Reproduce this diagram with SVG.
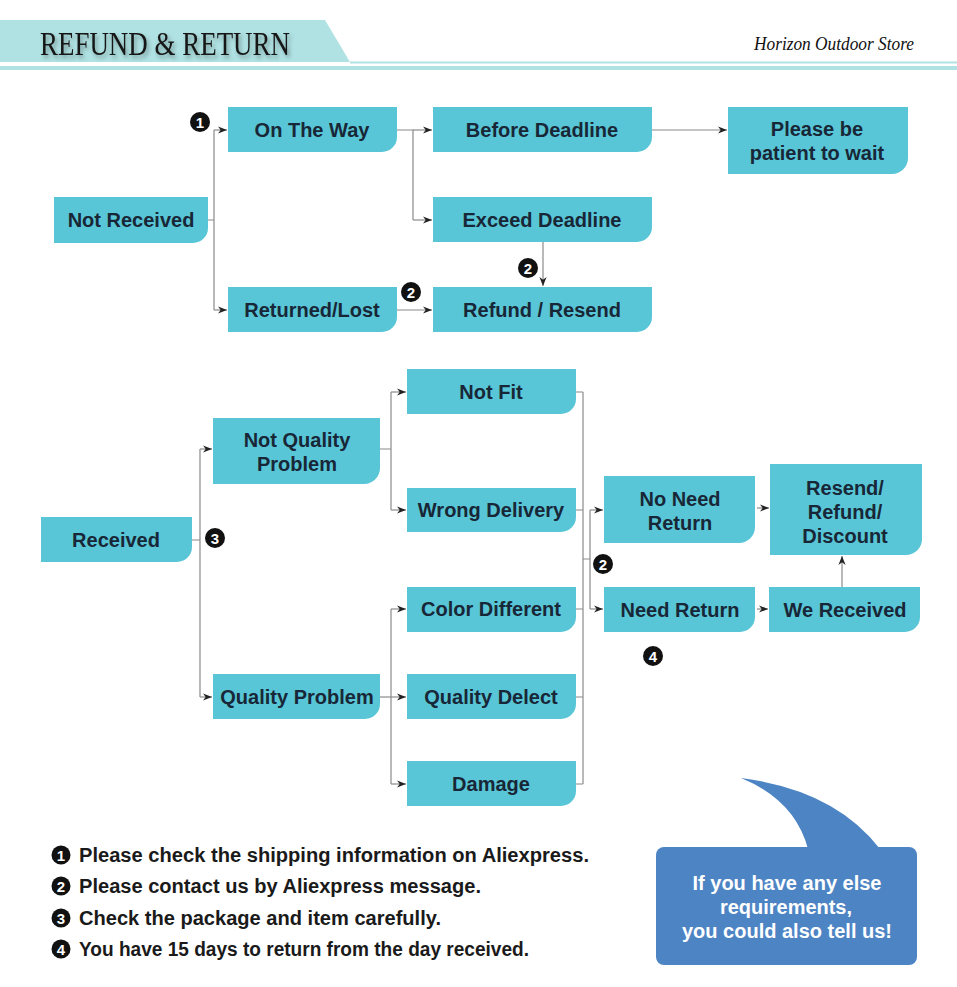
<svg xmlns="http://www.w3.org/2000/svg" width="957" height="987" viewBox="0 0 957 987">
<defs>
<style>
.node{fill:#58c6d6}
.t{font-family:"Liberation Sans",Arial,sans-serif;font-weight:bold;font-size:20px;fill:#182737;text-anchor:middle}
.conn{fill:none;stroke:#8a8a8a;stroke-width:1.2}
.arr{marker-end:url(#ah)}
.bc{fill:#111}
.bt{font-family:"Liberation Sans",Arial,sans-serif;font-weight:bold;font-size:15px;fill:#fff;text-anchor:middle}
.note{font-family:"Liberation Sans",Arial,sans-serif;font-weight:bold;font-size:20px;fill:#1a1a1a}
.bub{font-family:"Liberation Sans",Arial,sans-serif;font-weight:bold;font-size:20px;fill:#fff;text-anchor:middle}
</style>
<marker id="ah" viewBox="0 0 10 10" refX="10" refY="5" markerWidth="9" markerHeight="9" markerUnits="userSpaceOnUse" orient="auto">
<path d="M0,1 L10,5 L0,9 L3,5 Z" fill="#222"/>
</marker>
<filter id="sh" x="-10%" y="-30%" width="120%" height="160%">
<feDropShadow dx="2" dy="3" stdDeviation="2" flood-color="#000" flood-opacity="0.35"/>
</filter>
</defs>
<rect width="957" height="987" fill="#fff"/>

<g id="header">
<polygon points="0,20 325,20 350,62 0,62" fill="#b0e2e3"/>
<rect x="350" y="61.5" width="607" height="2" fill="#b0e2e3"/>
<rect x="0" y="66" width="957" height="4" fill="#b0e2e3"/>
<text x="40" y="55" font-family="Liberation Serif,serif" font-size="34" fill="#151515" textLength="250" lengthAdjust="spacingAndGlyphs" filter="url(#sh)">REFUND &amp; RETURN</text>
<text x="754" y="50" font-family="Liberation Serif,serif" font-style="italic" font-size="18" fill="#111" textLength="160" lengthAdjust="spacingAndGlyphs">Horizon Outdoor Store</text>
</g>

<g id="connectors">
<path class="conn" d="M208,220 H214 M214,130 V310"/>
<path class="conn arr" d="M214,130 H227"/>
<path class="conn arr" d="M214,310 H227"/>
<path class="conn" d="M397,130 H413 V220"/>
<path class="conn arr" d="M413,130 H432"/>
<path class="conn arr" d="M413,220 H432"/>
<path class="conn arr" d="M652,130 H727"/>
<path class="conn arr" d="M543,242 V286"/>
<path class="conn arr" d="M397,310 H432"/>

<path class="conn" d="M192,540 H200 M200,449 V697"/>
<path class="conn arr" d="M200,449 H212"/>
<path class="conn arr" d="M200,697 H212"/>
<path class="conn" d="M380,449 H391 M391,392 V510"/>
<path class="conn arr" d="M391,392 H406"/>
<path class="conn arr" d="M391,510 H406"/>
<path class="conn arr" d="M380,697 H406"/>
<path class="conn" d="M391,609 V784"/>
<path class="conn arr" d="M391,609 H406"/>
<path class="conn arr" d="M391,784 H406"/>

<path class="conn" d="M576,392 H583 M576,510 H583 M576,609 H583 M576,697 H583 M576,784 H583 M583,392 V784 M583,559 H590 M590,510 V609"/>
<path class="conn arr" d="M590,510 H603"/>
<path class="conn arr" d="M590,609 H603"/>
<path class="conn arr" d="M757,508 H769"/>
<path class="conn arr" d="M757,609 H768"/>
<path class="conn arr" d="M842,587 V556"/>
</g>

<g id="badges">
<circle class="bc" cx="200" cy="122" r="10"/><text class="bt" x="200" y="127.5">1</text>
<circle class="bc" cx="411" cy="292" r="10"/><text class="bt" x="411" y="297.5">2</text>
<circle class="bc" cx="528" cy="268" r="10"/><text class="bt" x="528" y="273.5">2</text>
<circle class="bc" cx="215" cy="538" r="10"/><text class="bt" x="215" y="543.5">3</text>
<circle class="bc" cx="603" cy="564" r="10"/><text class="bt" x="603" y="569.5">2</text>
<circle class="bc" cx="653" cy="656" r="10"/><text class="bt" x="653" y="661.5">4</text>
</g>

<g id="n-not-received"><path class="node" d="M54,197 H208 V228 A15,15 0 0 1 193,243 H54 Z"/><text class="t" x="131" y="227">Not Received</text></g>
<g id="n-on-the-way"><path class="node" d="M228,107 H397 V137 A15,15 0 0 1 382,152 H228 Z"/><text class="t" x="312" y="137">On The Way</text></g>
<g id="n-returned-lost"><path class="node" d="M228,287 H397 V317 A15,15 0 0 1 382,332 H228 Z"/><text class="t" x="312" y="317">Returned/Lost</text></g>
<g id="n-before-deadline"><path class="node" d="M433,107 H652 V137 A15,15 0 0 1 637,152 H433 Z"/><text class="t" x="542" y="137">Before Deadline</text></g>
<g id="n-exceed-deadline"><path class="node" d="M433,197 H652 V227 A15,15 0 0 1 637,242 H433 Z"/><text class="t" x="542" y="227">Exceed Deadline</text></g>
<g id="n-refund-resend"><path class="node" d="M433,287 H652 V317 A15,15 0 0 1 637,332 H433 Z"/><text class="t" x="542" y="317">Refund / Resend</text></g>
<g id="n-patient"><path class="node" d="M728,107 H908 V158 A16,16 0 0 1 892,174 H728 Z"/><text class="t" x="817" y="136">Please be</text><text class="t" x="817" y="160">patient to wait</text></g>

<g id="n-received"><path class="node" d="M41,517 H192 V547 A15,15 0 0 1 177,562 H41 Z"/><text class="t" x="116" y="547">Received</text></g>
<g id="n-not-quality"><path class="node" d="M213,418 H380 V468 A16,16 0 0 1 364,484 H213 Z"/><text class="t" x="297" y="447">Not Quality</text><text class="t" x="297" y="471">Problem</text></g>
<g id="n-quality"><path class="node" d="M213,674 H380 V704 A15,15 0 0 1 365,719 H213 Z"/><text class="t" x="297" y="704">Quality Problem</text></g>
<g id="n-not-fit"><path class="node" d="M407,369 H576 V399 A15,15 0 0 1 561,414 H407 Z"/><text class="t" x="491" y="399">Not Fit</text></g>
<g id="n-wrong-delivery"><path class="node" d="M407,488 H576 V517 A15,15 0 0 1 561,532 H407 Z"/><text class="t" x="491" y="517">Wrong Delivery</text></g>
<g id="n-color-different"><path class="node" d="M407,587 H576 V617 A15,15 0 0 1 561,632 H407 Z"/><text class="t" x="491" y="616">Color Different</text></g>
<g id="n-quality-delect"><path class="node" d="M407,674 H576 V704 A15,15 0 0 1 561,719 H407 Z"/><text class="t" x="491" y="704">Quality Delect</text></g>
<g id="n-damage"><path class="node" d="M407,761 H576 V791 A15,15 0 0 1 561,806 H407 Z"/><text class="t" x="491" y="791">Damage</text></g>
<g id="n-no-need-return"><path class="node" d="M604,476 H755 V527 A16,16 0 0 1 739,543 H604 Z"/><text class="t" x="680" y="506">No Need</text><text class="t" x="680" y="530">Return</text></g>
<g id="n-need-return"><path class="node" d="M604,587 H755 V617 A15,15 0 0 1 740,632 H604 Z"/><text class="t" x="680" y="617">Need Return</text></g>
<g id="n-resend"><path class="node" d="M770,464 H922 V539 A16,16 0 0 1 906,555 H770 Z"/><text class="t" x="845" y="495">Resend/</text><text class="t" x="845" y="519">Refund/</text><text class="t" x="845" y="543">Discount</text></g>
<g id="n-we-received"><path class="node" d="M769,587 H920 V617 A15,15 0 0 1 905,632 H769 Z"/><text class="t" x="845" y="617">We Received</text></g>

<g id="notes">
<circle class="bc" cx="61" cy="855" r="9.5"/><text class="bt" x="61" y="860.5">1</text>
<text class="note" x="79" y="862" textLength="510" lengthAdjust="spacingAndGlyphs">Please check the shipping information on Aliexpress.</text>
<circle class="bc" cx="61" cy="886" r="9.5"/><text class="bt" x="61" y="891.5">2</text>
<text class="note" x="79" y="893" textLength="402" lengthAdjust="spacingAndGlyphs">Please contact us by Aliexpress message.</text>
<circle class="bc" cx="61" cy="918" r="9.5"/><text class="bt" x="61" y="923.5">3</text>
<text class="note" x="79" y="925" textLength="362" lengthAdjust="spacingAndGlyphs">Check the package and item carefully.</text>
<circle class="bc" cx="61" cy="949" r="9.5"/><text class="bt" x="61" y="954.5">4</text>
<text class="note" x="79" y="956" textLength="450" lengthAdjust="spacingAndGlyphs">You have 15 days to return from the day received.</text>
</g>

<g id="bubble">
<path d="M741,778 Q795,800 808,849 L880,849 Q835,790 741,778 Z" fill="#4d84c4"/>
<rect x="656" y="847" width="261" height="118" rx="8" fill="#4d84c4"/>
<text class="bub" x="787" y="890" textLength="189" lengthAdjust="spacingAndGlyphs">If you have any else</text>
<text class="bub" x="786" y="914" textLength="132" lengthAdjust="spacingAndGlyphs">requirements,</text>
<text class="bub" x="787" y="938" textLength="210" lengthAdjust="spacingAndGlyphs">you could also tell us!</text>
</g>
</svg>
